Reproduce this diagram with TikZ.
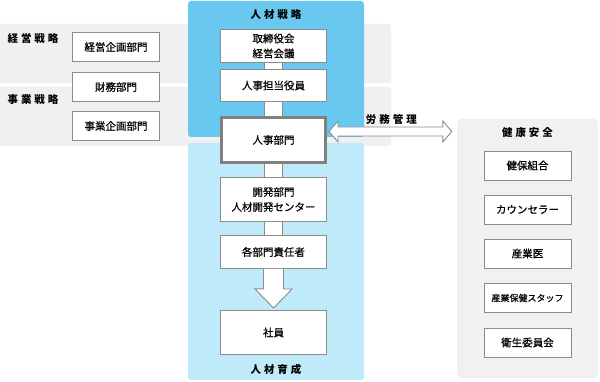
\documentclass[tikz,border=0pt]{standalone}
\usepackage{fontspec}
\setmainfont{Noto Sans CJK JP}
\newfontfamily\boxfont[FakeBold=0.7]{Noto Sans CJK JP}
\newfontfamily\tagfont[LetterSpace=28]{Noto Sans CJK JP}
\usetikzlibrary{calc}
\definecolor{bandgray}{HTML}{F0F0F0}
\definecolor{panelgray}{HTML}{F1F1F1}
\definecolor{boxgray}{HTML}{8C8C8C}
\definecolor{keygray}{HTML}{808080}
\definecolor{strategyblue}{HTML}{68C8F0}
\definecolor{growthblue}{HTML}{BEEAFA}

\begin{document}
\begin{tikzpicture}[x=1pt, y=-1pt, band/.style={fill=bandgray, rounded corners=2pt}, zone/.style={rounded corners=3pt, minimum width=176pt, inner sep=0pt}, box/.style={draw=boxgray, fill=white, line width=0.9pt, align=center, font=\boxfont\fontsize{10.5}{15}\selectfont}, unit/.style={box, minimum width=106pt}, side/.style={box, minimum width=87pt, minimum height=29pt}, keybox/.style={box, draw=keygray, line width=3pt, minimum width=104pt, minimum height=45pt}, link/.style={draw=boxgray, line width=0.8pt, double=white, double distance=17.4pt}, fat/.style={draw=boxgray, fill=white, line width=0.9pt, line join=miter}, tag/.style={font=\tagfont\bfseries\fontsize{10.5}{12}\selectfont}]
\useasboundingbox (0,0) rectangle (600,382);
\fill[band] (-5,24) rectangle (391,83);
\fill[band] (-5,87) rectangle (391,146);
\node[zone, fill=strategyblue, minimum height=136pt] (strategy) at (276,69) {};
\node[zone, fill=growthblue, minimum height=237pt] (growth) at (276,261.5) {};
\node[zone, fill=panelgray, rounded corners=4pt, minimum width=141pt, minimum height=259pt] (health) at (527.5,248.5) {};
\node[unit, minimum height=33pt] (board) at (273.5,46) {取締役会\\経営会議};
\node[unit, minimum height=32pt] (exec) at (273.5,85.5) {人事担当役員};
\node[keybox] (hr) at (273.5,140) {人事部門};
\node[unit, minimum height=44pt] (dev) at (273.5,199.5) {開発部門\\人材開発センター};
\node[unit, minimum height=33pt] (mgr) at (273.5,252) {各部門責任者};
\node[unit, minimum height=44pt] (staff) at (273.5,332.5) {社員};
\node[side] (corp) at (116,47) {経営企画部門};
\node[side] (fin) at (116,87) {財務部門};
\node[side] (biz) at (116,126) {事業企画部門};
\node[side] (kenpo) at (527.5,165.5) {健保組合};
\node[side] (counsel) at (527.5,209.5) {カウンセラー};
\node[side] (doctor) at (527.5,253.5) {産業医};
\node[side, font=\boxfont\fontsize{9}{11}\selectfont] (nurse) at (527.5,298) {産業保健スタッフ};
\node[side] (council) at (527.5,342.5) {衛生委員会};
\draw[link] (board) -- (exec);
\draw[link] (exec) -- (hr);
\draw[link] (hr) -- (dev);
\draw[link] (dev) -- (mgr);
\draw[fat] ($(mgr.south)+(-10,0)$) -- ++(0,20) -- ++(-8.5,0) -- ($(staff.north)+(0,-2)$) -- ++(18.5,-19) -- ++(-8.5,0) -- ($(mgr.south)+(10,0)$);
\coordinate (lt) at ($(hr.north east)+(2,15.5)$);
\coordinate (rt) at ($(lt -| health.west)+(-5,0)$);
\draw[fat] (lt) -- ++(9,-10.5) -- ++(0,6) -- ($(rt)+(-9,-4.5)$) -- ++(0,-6) -- (rt) -- ++(-9,10.5) -- ++(0,-6) -- ($(lt)+(9,4.5)$) -- ++(0,6) -- cycle;
\node[tag] (labour) at ($(lt)!0.5!(rt)+(1,-12.5)$) {労務管理};
\node[tag] (strategytag) at (276,15) {人材戦略};
\node[tag] (growthtag) at (276,369) {人材育成};
\node[tag] (corptag) at (33,39) {経営戦略};
\node[tag] (biztag) at (33,100) {事業戦略};
\node[tag] (healthtag) at (527.5,133) {健康安全};
\end{tikzpicture}
\end{document}
